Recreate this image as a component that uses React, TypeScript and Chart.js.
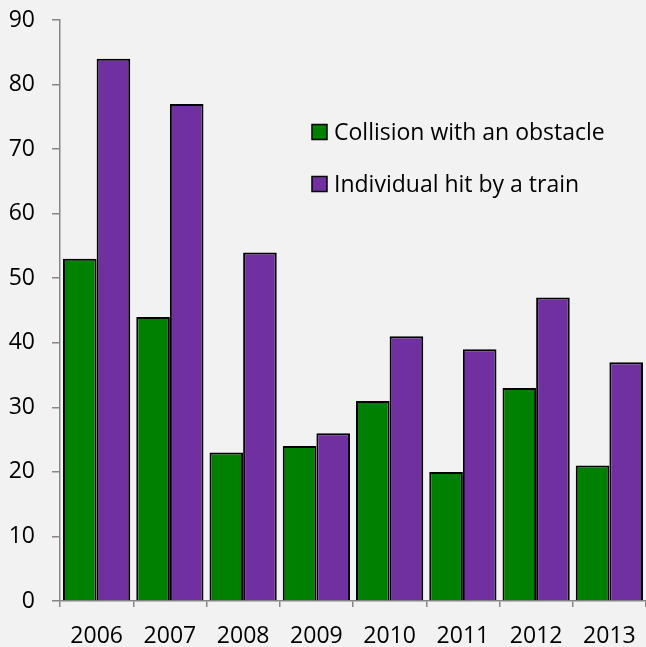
import React, { useEffect, useRef } from "react";
import { Chart, registerables } from "chart.js";

Chart.register(...registerables);

const years = ["2006", "2007", "2008", "2009", "2010", "2011", "2012", "2013"];
const collisionValues = [53, 44, 23, 24, 31, 20, 33, 21];
const individualValues = [84, 77, 54, 26, 41, 39, 47, 37];
const seriesLabels = ["Collision with an obstacle", "Individual hit by a train"];
const yTicks = [0, 10, 20, 30, 40, 50, 60, 70, 80, 90];

const FONT = "'Open Sans', sans-serif";

export default function App() {
  const ref = useRef<HTMLCanvasElement | null>(null);

  useEffect(() => {
    document.body.style.margin = "0";
    document.body.style.background = "#F2F2F2";
    const legendPlugin = {
      id: "customLegend",
      afterDraw(chart: any) {
        const ctx = chart.ctx;
        const items = chart.data.datasets;
        const x0 = 312;
        const ys = [132, 184];
        ctx.save();
        items.forEach((ds: any, i: number) => {
          const y = ys[i];
          ctx.fillStyle = ds.backgroundColor;
          ctx.fillRect(x0, y - 7.5, 15, 15);
          ctx.strokeStyle = "#000";
          ctx.lineWidth = 1.5;
          ctx.strokeRect(x0, y - 7.5, 15, 15);
          ctx.fillStyle = "#000";
          ctx.font = `23px ${FONT}`;
          ctx.textBaseline = "middle";
          ctx.textAlign = "left";
          ctx.fillText(ds.label, 334, y + 1);
        });
        ctx.restore();
      },
    };
    const chart = new Chart(ref.current!, {
      type: "bar",
      data: {
        labels: years,
        datasets: [
          {
            label: seriesLabels[0],
            data: collisionValues,
            backgroundColor: "#008000",
            borderColor: "#000000",
            borderWidth: 2,
          },
          {
            label: seriesLabels[1],
            data: individualValues,
            backgroundColor: "#7030A0",
            borderColor: "#000000",
            borderWidth: 2,
          },
        ],
      },
      options: {
        animation: false,
        responsive: false,
        maintainAspectRatio: false,
        layout: { padding: { top: 20, right: 0, left: 0, bottom: 0 } },
        datasets: { bar: { categoryPercentage: 0.918, barPercentage: 1 } },
        plugins: {
          legend: { display: false },
          tooltip: { enabled: false },
        },
        scales: {
          x: {
            grid: {
              display: true,
              drawOnChartArea: false,
              drawTicks: true,
              tickLength: 6,
              color: "#868686",
              lineWidth: 1.5,
              offset: true,
            },
            border: { display: true, color: "#868686", width: 1.5 },
            ticks: {
              color: "#000",
              font: { family: FONT, size: 23 },
              padding: 16,
              maxRotation: 0,
            },
            afterFit: (s: any) => {
              s.height = 46;
              s.paddingLeft = 0;
              s.paddingRight = 0;
            },
          },
          y: {
            min: 0,
            max: 90,
            afterBuildTicks: (s: any) => {
              s.ticks = yTicks.map((v) => ({ value: v }));
            },
            grid: {
              display: true,
              drawOnChartArea: false,
              drawTicks: true,
              tickLength: 8,
              color: "#868686",
              lineWidth: 1.5,
            },
            border: { display: true, color: "#868686", width: 1.5 },
            ticks: {
              color: "#000",
              font: { family: FONT, size: 23 },
              padding: 17,
            },
            afterFit: (s: any) => {
              s.width = 60;
              s.paddingTop = 0;
              s.paddingBottom = 0;
            },
          },
        },
      },
      plugins: [legendPlugin],
    });
    return () => chart.destroy();
  }, []);

  return (
    <div style={{ position: "fixed", left: 0, top: 0, width: 646, height: 647, background: "#F2F2F2" }}>
      <canvas ref={ref} width={646} height={647} style={{ width: 646, height: 647 }} />
    </div>
  );
}
